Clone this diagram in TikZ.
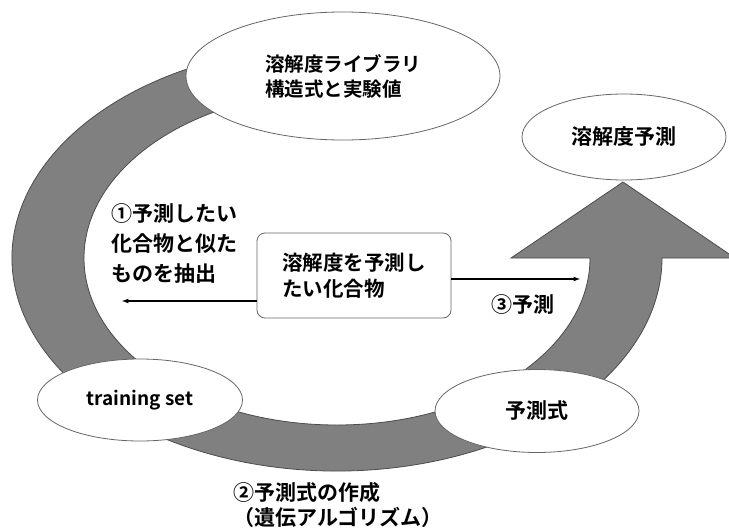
\documentclass[tikz,border=0pt]{standalone}
\usepackage{fontspec}
\setmainfont{Noto Sans CJK JP}[BoldFont={Noto Sans CJK JP Bold}]
\usetikzlibrary{shapes.geometric}

\begin{document}
\begin{tikzpicture}[x=1pt, y=-1pt, >=latex,
  every node/.style={inner sep=0pt, font=\bfseries\fontsize{21}{30}\selectfont},
  bubble/.style={ellipse, draw=gray!80!black, line width=0.8pt, fill=white}]
\useasboundingbox (0,0) rectangle (729,530);
% loop band ending in the big arrow head
\filldraw[fill=gray, draw=black!70, line width=0.8pt]
  (337,258) ++(250:325 and 213)
  arc[start angle=250, end angle=0, x radius=325, y radius=213]
  -- (735,258) -- (623,182) -- (511,258) -- (590,258)
  arc[start angle=0, end angle=250, x radius=253, y radius=167] -- cycle;
\node[bubble, minimum width=314, minimum height=128, align=left, font=\bfseries\fontsize{19.5}{25}\selectfont] (lib) at (343,76) {溶解度ライブラリ\\構造式と実験値};
\node[bubble, minimum width=204, minimum height=86] (pred) at (624,137) {溶解度予測};
\node[bubble, minimum width=205, minimum height=82, font=\bfseries\fontsize{19}{24}\selectfont] (train) at (140,400) {training set};
\node[bubble, minimum width=204, minimum height=83] (model) at (537,411) {予測式};
\node[draw=gray!80!black, line width=0.8pt, rounded corners=8, fill=white, minimum width=194, minimum height=85, align=left, font=\bfseries\fontsize{20.5}{26}\selectfont] (query) at (354,275.5) {溶解度を予測し\\たい化合物};
\node[anchor=west, align=left] (step1) at (111,243) {①予測したい\\化合物と似た\\ものを抽出};
\node (step3) at (523,305) {③予測};
\node[anchor=west, align=left, font=\bfseries\fontsize{21}{25}\selectfont] (step2) at (233,505) {②予測式の作成\\（遺伝アルゴリズム）};
\coordinate (lend) at (122,301);
\coordinate (rend) at (580,279);
\draw[->, line width=1.2pt] (query.west |- lend) -- (lend);
\draw[->, line width=1.2pt] (query.east |- rend) -- (rend);
\end{tikzpicture}
\end{document}
